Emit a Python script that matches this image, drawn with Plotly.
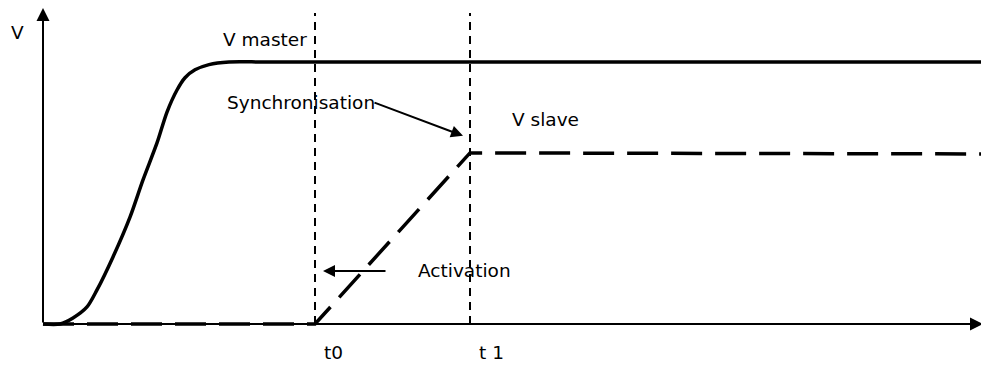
import plotly.graph_objects as go

# ---- data (time in arbitrary units, voltage normalised to V master = 1) ----
master_t = [0.00, 0.17, 0.30, 0.44, 0.54, 0.70, 0.87, 1.00, 1.14, 1.24, 1.34, 1.42, 1.52, 1.66, 1.86, 2.20, 2.80, 9.39]
master_v = [0.000, 0.000, 0.023, 0.065, 0.130, 0.256, 0.408, 0.550, 0.691, 0.809, 0.893, 0.940, 0.970, 0.990, 1.000, 1.000, 1.000, 1.000]

slave_t = [0.00, 2.72, 4.27, 9.39]
slave_v = [0.000, 0.000, 0.653, 0.649]

event_times = [2.72, 4.27]
event_labels = ["t0", "t 1"]
event_top = 1.187

axis_x_end = 9.40
axis_y_end = 1.206

FONT = dict(family="DejaVu Sans", size=18.5, color="black")

fig = go.Figure()

# vertical event markers
for t in event_times:
    fig.add_trace(go.Scatter(x=[t, t], y=[0, event_top], mode="lines",
                             line=dict(color="black", width=2, dash="8px,6px"),
                             hoverinfo="skip", showlegend=False))

# V master
fig.add_trace(go.Scatter(x=master_t, y=master_v, mode="lines",
                         line=dict(color="black", width=3.5, shape="spline", smoothing=0.8),
                         showlegend=False))
# V slave
fig.add_trace(go.Scatter(x=slave_t, y=slave_v, mode="lines",
                         line=dict(color="black", width=3.5, dash="31px,13px"),
                         showlegend=False))

annotations = []
# axes with arrows
annotations.append(dict(x=axis_x_end, y=0, ax=0, ay=0, xref="x", yref="y", axref="x", ayref="y",
                        text="", showarrow=True, arrowhead=2, arrowsize=1.3, arrowwidth=2, arrowcolor="black"))
annotations.append(dict(x=0, y=axis_y_end, ax=0, ay=0, xref="x", yref="y", axref="x", ayref="y",
                        text="", showarrow=True, arrowhead=2, arrowsize=1.3, arrowwidth=2, arrowcolor="black"))
# Synchronisation arrow
annotations.append(dict(x=4.20, y=0.718, ax=3.30, ay=0.847, xref="x", yref="y", axref="x", ayref="y",
                        text="", showarrow=True, arrowhead=2, arrowsize=1.2, arrowwidth=2, arrowcolor="black"))
# Activation arrow
annotations.append(dict(x=2.80, y=0.202, ax=3.44, ay=0.202, xref="x", yref="y", axref="x", ayref="y",
                        text="", showarrow=True, arrowhead=2, arrowsize=1.2, arrowwidth=2, arrowcolor="black"))

labels = [
    ("V", -0.26, 1.111),
    ("V master", 2.22, 1.084),
    ("Synchronisation", 2.58, 0.844),
    ("V slave", 5.02, 0.779),
    ("Activation", 4.21, 0.206),
]
for txt, x, y in labels:
    annotations.append(dict(x=x, y=y, xref="x", yref="y", text=txt, showarrow=False,
                            font=FONT, xanchor="center", yanchor="middle"))
for t, lab in zip(event_times, event_labels):
    annotations.append(dict(x=t, y=-0.107, xref="x", yref="y", text=lab, showarrow=False,
                            font=FONT, xanchor="left", yanchor="middle", xshift=7))

# the page adds an 8px body margin, so the ranges are offset by 8px to compensate
fig.update_layout(
    width=989, height=372,
    margin=dict(l=0, r=0, t=0, b=0),
    paper_bgcolor="white", plot_bgcolor="white",
    xaxis=dict(range=[-0.35, 9.54], visible=False, fixedrange=True),
    yaxis=dict(range=[-0.2137, 1.206], visible=False, fixedrange=True),
    annotations=annotations,
    showlegend=False,
)

fig.write_html("out.html")
